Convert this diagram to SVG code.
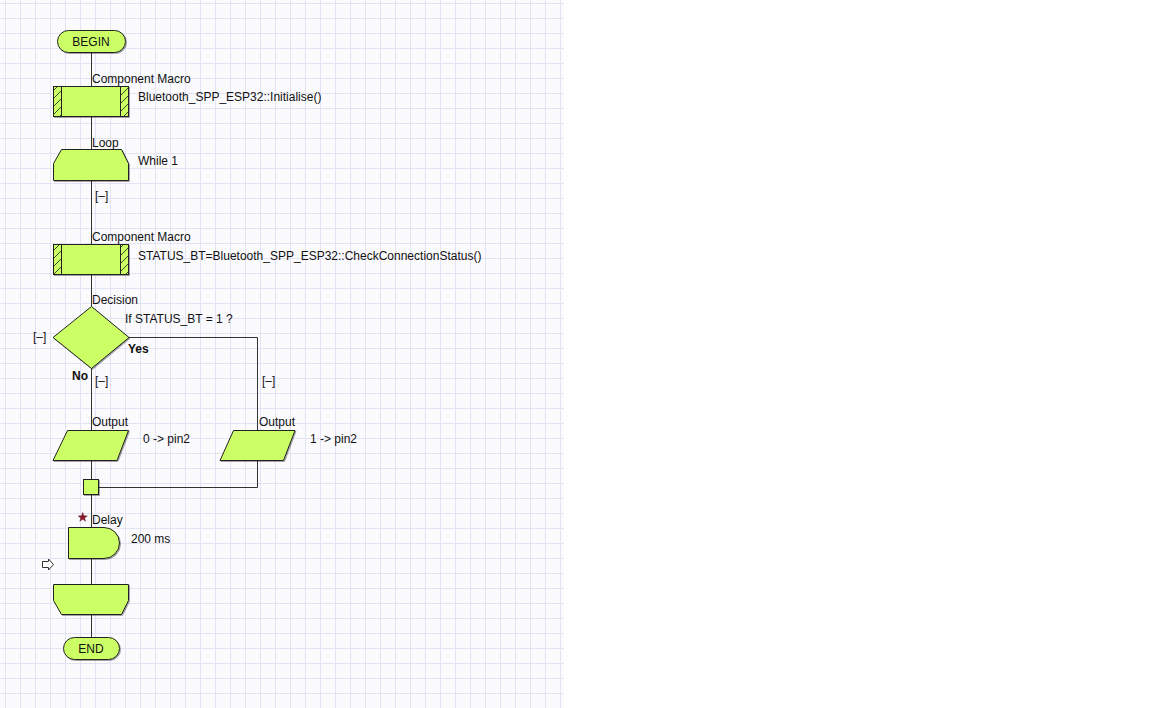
<svg xmlns="http://www.w3.org/2000/svg" width="1152" height="708" viewBox="0 0 1152 708">
<defs>
<pattern id="grid" patternUnits="userSpaceOnUse" x="5" y="3" width="15" height="15">
<rect width="15" height="15" fill="#fbfbfe"/>
<path d="M0.5 0V15M0 0.5H15" stroke="#e3e3f3" stroke-width="1" fill="none"/>
</pattern>
<pattern id="hatch" patternUnits="userSpaceOnUse" width="8" height="8">
<rect width="8" height="8" fill="#ccff66"/>
<path d="M-1 9L9 -1" stroke="#2a3a10" stroke-width="0.9"/>
</pattern>
<filter id="sh" x="-10%" y="-10%" width="130%" height="130%">
<feDropShadow dx="1" dy="1" stdDeviation="0.6" flood-color="#000" flood-opacity="0.35"/>
</filter>
<style>
.s{fill:#ccff66;stroke:#222;stroke-width:1;filter:url(#sh)}
.h{fill:url(#hatch);stroke:#222;stroke-width:1}
.c{fill:none;stroke:#333;stroke-width:1}
text{font-family:"Liberation Sans",Arial,sans-serif;font-size:12px;fill:#111}
.b{font-weight:bold}
.m{text-anchor:middle}
</style>
</defs>
<rect x="0" y="0" width="1152" height="708" fill="#ffffff"/>
<rect x="0" y="0" width="564" height="708" fill="url(#grid)"/>

<g id="connectors">
<path class="c" d="M91.5 52V86M91.5 116V149M91.5 180V244M91.5 274V306M91.5 368V430M91.5 460V479M91.5 495V527M91.5 558V584M91.5 614V637"/>
<path class="c" d="M129 337.5H257.5V430"/>
<path class="c" d="M257.5 460V487.5H99"/>
</g>

<g id="begin">
<rect class="s" x="57.5" y="30.5" width="68" height="22" rx="11"/>
<text class="m" x="91" y="46">BEGIN</text>
</g>

<g id="macro1">
<rect class="s" x="53.5" y="86.5" width="75" height="30"/>
<rect class="h" x="53.5" y="86.5" width="8" height="30"/>
<rect class="h" x="120.5" y="86.5" width="8" height="30"/>
<text x="92" y="83">Component Macro</text>
<text x="138" y="101">Bluetooth_SPP_ESP32::Initialise()</text>
</g>

<g id="loop">
<polygon class="s" points="61.5,149.5 121.5,149.5 128.5,163.5 128.5,180.5 53.5,180.5 53.5,163.5"/>
<text x="92" y="147">Loop</text>
<text x="138" y="165">While 1</text>
<text x="95" y="200">[–]</text>
</g>

<g id="macro2">
<rect class="s" x="53.5" y="244.5" width="75" height="30"/>
<rect class="h" x="53.5" y="244.5" width="8" height="30"/>
<rect class="h" x="120.5" y="244.5" width="8" height="30"/>
<text x="92" y="241">Component Macro</text>
<text x="138" y="260">STATUS_BT=Bluetooth_SPP_ESP32::CheckConnectionStatus()</text>
</g>

<g id="decision">
<polygon class="s" points="91.5,306.5 129,337.5 91.5,368.5 53,337.5"/>
<text x="92" y="304">Decision</text>
<text x="125" y="323">If  STATUS_BT = 1 ?</text>
<text x="33" y="341">[–]</text>
<text class="b" x="128" y="353">Yes</text>
<text class="b" x="72" y="380">No</text>
<text x="95" y="385">[–]</text>
<text x="262" y="385">[–]</text>
</g>

<g id="output1">
<polygon class="s" points="67.5,430.5 128.5,430.5 117,460.5 53,460.5"/>
<text x="92" y="426">Output</text>
<text x="143" y="443">0 -&gt; pin2</text>
</g>

<g id="output2">
<polygon class="s" points="233.5,430.5 295,430.5 283.5,460.5 220,460.5"/>
<text x="259" y="426">Output</text>
<text x="310" y="443">1 -&gt; pin2</text>
</g>

<g id="junction">
<rect class="s" x="83.5" y="479.5" width="15" height="15"/>
</g>

<g id="delay">
<path class="s" d="M68.5 527.5H104A15.5 15.5 0 0 1 104 558.5H68.5Z"/>
<polygon points="82.7,512.5 83.9,515.8 87.3,515.9 84.6,518 85.6,521.3 82.7,519.3 79.8,521.3 80.8,518 78.1,515.9 81.5,515.8" fill="#8b1a2b" stroke="#5a0f1a" stroke-width="0.4"/>
<text x="92" y="524">Delay</text>
<text x="131" y="543">200 ms</text>
<path d="M42.5 561.5H48.5V559L53.5 564.5L48.5 570V567.5H42.5Z" fill="#fff" stroke="#333" stroke-width="1"/>
</g>

<g id="loopend">
<polygon class="s" points="53.5,584.5 128.5,584.5 128.5,600.5 121.5,614.5 61.5,614.5 53.5,600.5"/>
</g>

<g id="end">
<rect class="s" x="63.5" y="637.5" width="56" height="22" rx="11"/>
<text class="m" x="91" y="653">END</text>
</g>
</svg>
